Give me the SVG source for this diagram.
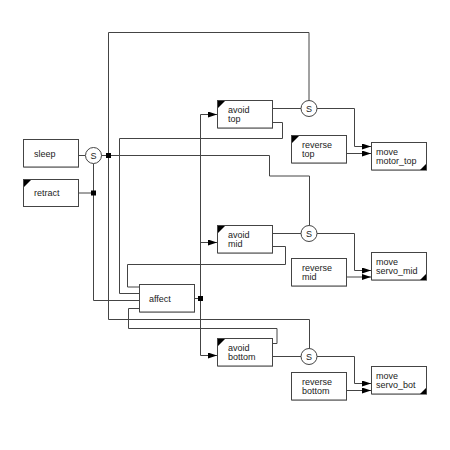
<svg xmlns="http://www.w3.org/2000/svg" width="450" height="450" viewBox="0 0 450 450">
<style>
.box{fill:#fff;stroke:#444;stroke-width:1}
.sh{fill:#888}
.t{font-family:"Liberation Sans",Arial,sans-serif;font-size:9px;fill:#222}
.c{fill:none;stroke:#444;stroke-width:1}
.j{fill:#000}
.tri{fill:#000}
.sup{fill:#fff;stroke:#444;stroke-width:1}
</style>
<defs>
<marker id="ar" markerUnits="userSpaceOnUse" markerWidth="9" markerHeight="6" refX="9" refY="3" orient="auto">
<path d="M0,0 L9,3 L0,6 z" fill="#000"/>
</marker>
</defs>
<rect width="450" height="450" fill="#fff"/>
<g id="connectors">
<path class="c" d="M78,155.5 H85"/>
<path class="c" d="M101,155.5 H108.5"/>
<path class="c" d="M309,100 V32.5 H108.5 V319.5 H309.5 V348.5"/>
<path class="c" d="M108.5,155.5 H269.5 V176 H309.5 V225"/>
<path class="c" d="M93.5,163.5 V300.5 H139"/>
<path class="c" d="M78,193 H93.5"/>
<path class="c" d="M272,122.5 H282.5 V138.5 H119.5 V293.5 H139"/>
<path class="c" d="M272,246.5 H285.5 V264.5 H127.5 V287 H139"/>
<path class="c" d="M272,343.5 H277 V328.5 H128.5 V308.5 H139"/>
<path class="c" d="M194,298.5 H200.5"/>
<path class="c" d="M200.5,114.5 V355.5"/>
<path class="c" d="M200.5,114.5 H217" marker-end="url(#ar)"/>
<path class="c" d="M200.5,242.5 H217" marker-end="url(#ar)"/>
<path class="c" d="M200.5,355.5 H217" marker-end="url(#ar)"/>
<path class="c" d="M272,108.5 H301"/>
<path class="c" d="M317,108.5 H354.5 V146.5 H371" marker-end="url(#ar)"/>
<path class="c" d="M346,153.5 H371" marker-end="url(#ar)"/>
<path class="c" d="M272,233.5 H301"/>
<path class="c" d="M317,233.5 H354.5 V270.5 H371" marker-end="url(#ar)"/>
<path class="c" d="M346,277 H371" marker-end="url(#ar)"/>
<path class="c" d="M272,356.5 H301"/>
<path class="c" d="M317,356.5 H354.5 V383.5 H371" marker-end="url(#ar)"/>
<path class="c" d="M346,390.5 H371" marker-end="url(#ar)"/>
<rect class="j" x="106" y="153" width="5" height="5"/>
<rect class="j" x="91" y="190.5" width="5" height="5"/>
<rect class="j" x="198" y="296" width="5" height="5"/>
</g>
<g id="S1"><circle class="sup" cx="93.5" cy="155.5" r="8"/><text class="t" x="93.5" y="158.8" text-anchor="middle">S</text></g>
<g id="S_top"><circle class="sup" cx="309" cy="108.5" r="8"/><text class="t" x="309" y="111.8" text-anchor="middle">S</text></g>
<g id="S_mid"><circle class="sup" cx="309" cy="233.5" r="8"/><text class="t" x="309" y="236.8" text-anchor="middle">S</text></g>
<g id="S_bot"><circle class="sup" cx="309" cy="356.5" r="8"/><text class="t" x="309" y="359.8" text-anchor="middle">S</text></g>
<g id="sleep"><rect class="sh" x="24" y="140" width="55" height="27.5"/><rect class="box" x="23.5" y="139.5" width="55" height="27.5"/><text class="t" x="34" y="157">sleep</text></g>
<g id="retract"><rect class="sh" x="24" y="180" width="55" height="27"/><rect class="box" x="23.5" y="179.5" width="55" height="27"/><path class="tri" d="M24,180 h7 L24,187 z"/><text class="t" x="34" y="196">retract</text></g>
<g id="avoid_top"><rect class="sh" x="218" y="101" width="55" height="27.5"/><rect class="box" x="217.5" y="100.5" width="55" height="27.5"/><path class="tri" d="M218,101 h7 L218,108 z"/><text class="t" x="228" y="113">avoid</text><text class="t" x="228" y="122">top</text></g>
<g id="reverse_top"><rect class="sh" x="292" y="136" width="55" height="27.5"/><rect class="box" x="291.5" y="135.5" width="55" height="27.5"/><path class="tri" d="M292,136 h7 L292,143 z"/><text class="t" x="302" y="148">reverse</text><text class="t" x="302" y="157">top</text></g>
<g id="move_motor_top"><rect class="sh" x="372" y="143" width="55" height="27.5"/><rect class="box" x="371.5" y="142.5" width="55" height="27.5"/><path class="tri" d="M426,170 v-6 L420,170 z"/><text class="t" x="376" y="154.5">move</text><text class="t" x="376" y="163.5">motor_top</text></g>
<g id="avoid_mid"><rect class="sh" x="218" y="226" width="55" height="27.5"/><rect class="box" x="217.5" y="225.5" width="55" height="27.5"/><path class="tri" d="M218,226 h7 L218,233 z"/><text class="t" x="228" y="238">avoid</text><text class="t" x="228" y="247">mid</text></g>
<g id="reverse_mid"><rect class="sh" x="292" y="259" width="55" height="27.5"/><rect class="box" x="291.5" y="258.5" width="55" height="27.5"/><text class="t" x="302" y="271">reverse</text><text class="t" x="302" y="280">mid</text></g>
<g id="move_servo_mid"><rect class="sh" x="372" y="253" width="55" height="27.5"/><rect class="box" x="371.5" y="252.5" width="55" height="27.5"/><path class="tri" d="M426,280 v-6 L420,280 z"/><text class="t" x="376" y="264.5">move</text><text class="t" x="376" y="273.5">servo_mid</text></g>
<g id="affect"><rect class="sh" x="140" y="285" width="55" height="27.5"/><rect class="box" x="139.5" y="284.5" width="55" height="27.5"/><text class="t" x="149" y="301.5">affect</text></g>
<g id="avoid_bottom"><rect class="sh" x="218" y="339" width="55" height="27.5"/><rect class="box" x="217.5" y="338.5" width="55" height="27.5"/><path class="tri" d="M218,339 h7 L218,346 z"/><text class="t" x="228" y="351">avoid</text><text class="t" x="228" y="360">bottom</text></g>
<g id="reverse_bottom"><rect class="sh" x="292" y="373" width="55" height="27.5"/><rect class="box" x="291.5" y="372.5" width="55" height="27.5"/><text class="t" x="302" y="385">reverse</text><text class="t" x="302" y="394">bottom</text></g>
<g id="move_servo_bot"><rect class="sh" x="372" y="367" width="55" height="27.5"/><rect class="box" x="371.5" y="366.5" width="55" height="27.5"/><path class="tri" d="M426,394 v-6 L420,394 z"/><text class="t" x="376" y="378.5">move</text><text class="t" x="376" y="387.5">servo_bot</text></g>
</svg>
